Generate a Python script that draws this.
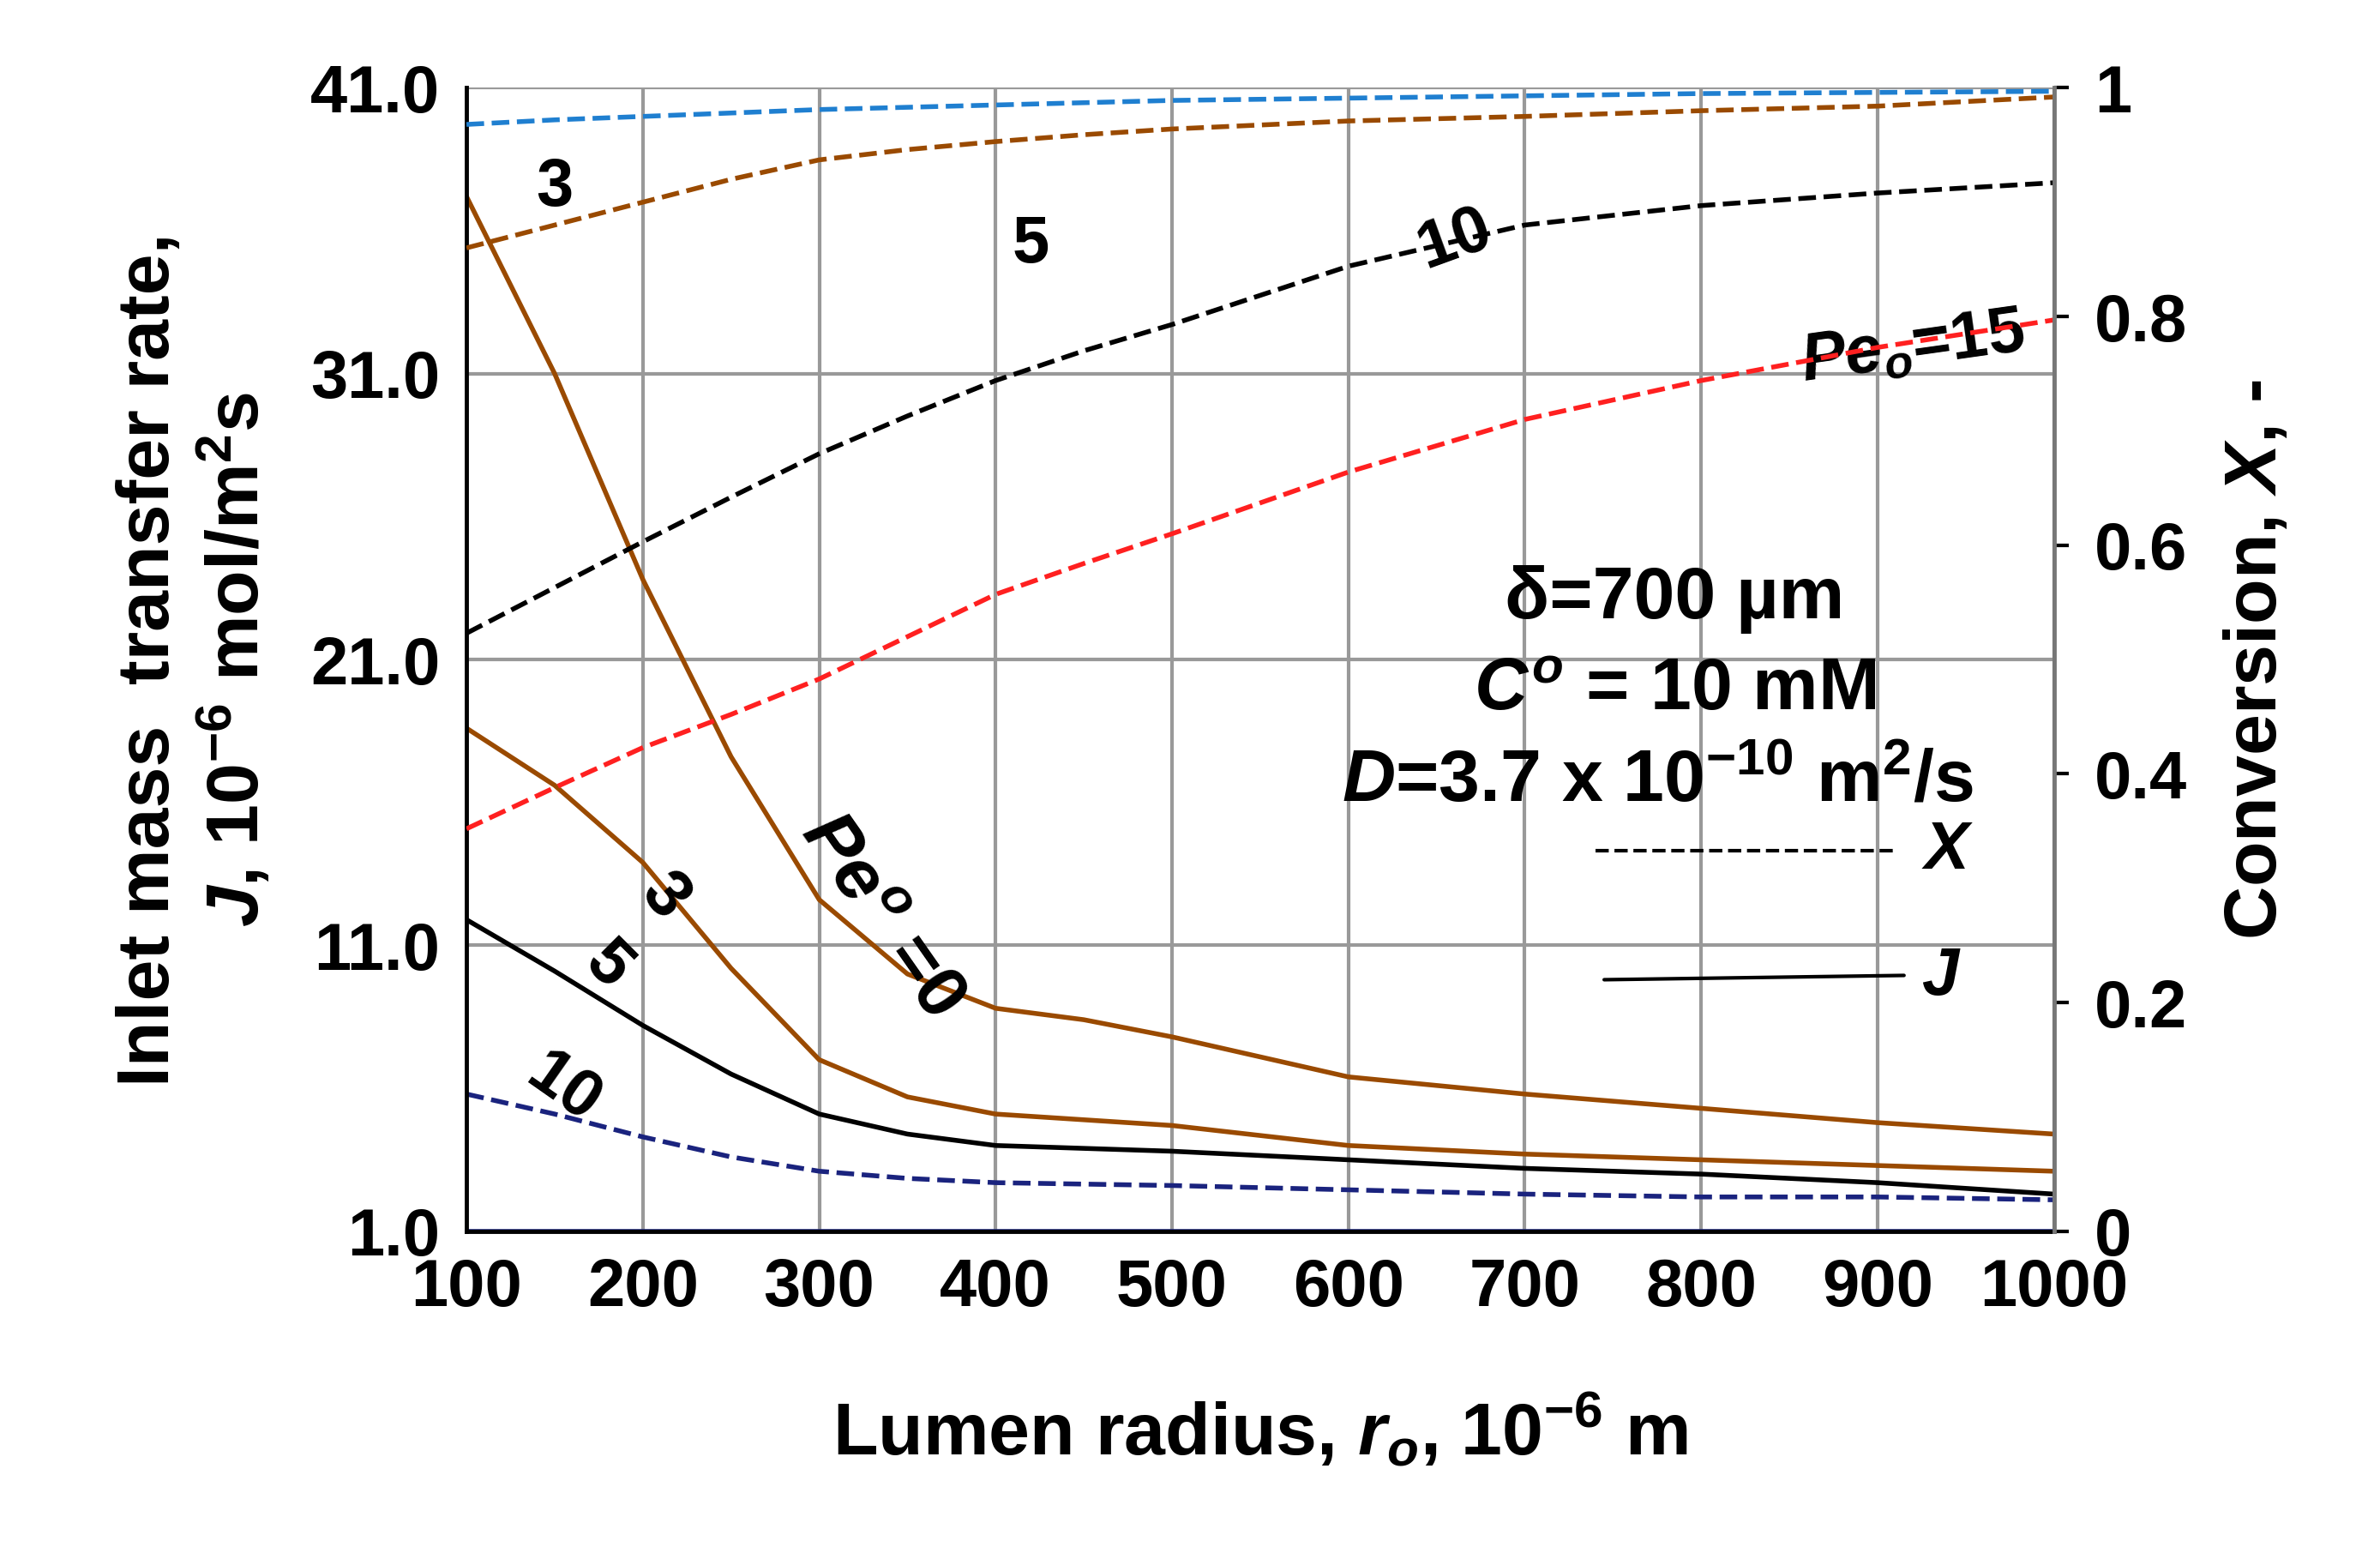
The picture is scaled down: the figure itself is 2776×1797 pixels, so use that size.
import numpy as np, pandas as pd, seaborn as sns, matplotlib
matplotlib.use("Agg")
import matplotlib.pyplot as plt

r = [100,150,200,250,300,350,400,450,500,600,700,800,900,1000]
J_pe0 = [37.2,31.0,23.8,17.6,12.6,10.0,8.8,8.4,7.8,6.4,5.8,5.3,4.8,4.4]
J_pe3 = [18.6,16.6,13.9,10.2,7.0,5.7,5.1,4.9,4.7,4.0,3.7,3.5,3.3,3.1]
J_pe5 = [11.9,10.1,8.2,6.5,5.1,4.4,4.0,3.9,3.8,3.5,3.2,3.0,2.7,2.3]
J_pe10 = [5.8,5.1,4.3,3.6,3.1,2.85,2.7,2.65,2.6,2.45,2.3,2.2,2.2,2.1]
J_pe15 = [1.0]*14
X_pe3 = [0.968,0.972,0.975,0.978,0.981,0.983,0.985,0.987,0.989,0.991,0.993,0.995,0.996,0.997]
X_pe5 = [0.86,0.88,0.90,0.92,0.937,0.946,0.953,0.959,0.964,0.971,0.975,0.98,0.984,0.992]
X_pe10 = [0.523,0.563,0.603,0.642,0.68,0.713,0.744,0.770,0.793,0.844,0.880,0.897,0.908,0.917]
X_pe15 = [0.352,0.388,0.423,0.452,0.483,0.520,0.557,0.584,0.61,0.664,0.71,0.744,0.773,0.797]

sns.set_style("white")
plt.rcParams['font.family'] = ['Liberation Sans', 'DejaVu Sans']
plt.rcParams['font.weight'] = 'bold'
plt.rcParams['text.color'] = 'black'
plt.rcParams['axes.labelcolor'] = 'black'
plt.rcParams['xtick.color'] = 'black'
plt.rcParams['ytick.color'] = 'black'
plt.rcParams['mathtext.fontset'] = 'custom'
plt.rcParams['mathtext.bf'] = 'Liberation Sans:bold'
plt.rcParams['mathtext.it'] = 'Liberation Sans:bold:italic'
plt.rcParams['mathtext.rm'] = 'Liberation Sans:bold'
fig = plt.figure(figsize=(27.76,17.97), dpi=100)
ax = fig.add_axes([0.196,0.201,0.667,0.742])
brown = '#9a4a00'
lw = 4
sns.lineplot(x=r, y=J_pe0, ax=ax, color=brown, lw=lw)
sns.lineplot(x=r, y=J_pe3, ax=ax, color=brown, lw=lw)
sns.lineplot(x=r, y=J_pe5, ax=ax, color='black', lw=lw)
sns.lineplot(x=r, y=J_pe10, ax=ax, color='#1a237e', lw=lw, linestyle='--')
sns.lineplot(x=r, y=J_pe15, ax=ax, color='#1a237e', lw=lw)
ax.set_xlim(100,1000); ax.set_ylim(1,41)
ax.set_xticks(range(100,1001,100)); ax.set_yticks([1,11,21,31,41])
ax.set_yticklabels(['1.0','11.0','21.0','31.0','41.0'])
ax.grid(True, color='#999999', lw=3)
for s in ['top','right']: ax.spines[s].set_visible(False)
ax.spines['left'].set_linewidth(3.5); ax.spines['bottom'].set_linewidth(3.5)
ax.spines['left'].set_color('black'); ax.spines['bottom'].set_color('black')
ax.tick_params(labelsize=56, length=0, pad=22)
for t in ax.get_xticklabels()+ax.get_yticklabels(): t.set_fontweight('bold')
ax.set_xlabel(r'Lumen radius, $\mathit{r_o}$, 10$^{-6}$ m', fontsize=62, fontweight='bold', labelpad=60)
ax.set_ylabel('Inlet mass  transfer rate,\n'+r'$\mathit{J}$, 10$^{-6}$ mol/m$^{2}$s', fontsize=62, fontweight='bold', labelpad=30)
ax2 = ax.twinx()
sns.lineplot(x=r, y=X_pe3, ax=ax2, color='#1f7fd0', lw=lw, linestyle='--')
sns.lineplot(x=r, y=X_pe5, ax=ax2, color=brown, lw=lw, linestyle='--')
sns.lineplot(x=r, y=X_pe10, ax=ax2, color='black', lw=lw, linestyle='--')
sns.lineplot(x=r, y=X_pe15, ax=ax2, color='#ff2020', lw=lw, linestyle='--')
ax2.set_ylim(0,1); ax2.set_xlim(100,1000)
ax2.set_yticks([0,0.2,0.4,0.6,0.8,1]); ax2.set_yticklabels(['0','0.2','0.4','0.6','0.8','1'])
for s in ['top','left','bottom']: ax2.spines[s].set_visible(False)
ax2.spines['right'].set_linewidth(3.5); ax2.spines['right'].set_color('#777777')
ax2.tick_params(labelsize=56, length=12, width=3, pad=22)
for t in ax2.get_yticklabels(): t.set_fontweight('bold')
ax2.set_ylabel(r'Conversion, $\mathit{X}$, -', fontsize=62, fontweight='bold', labelpad=30)
fs=56
ax.text(150,37.5,'3',fontsize=fs,fontweight='bold',ha='center',va='center')
ax.text(420,35.5,'5',fontsize=fs,fontweight='bold',ha='center',va='center')
ax.text(660,35.7,'10',fontsize=fs,fontweight='bold',ha='center',va='center',rotation=20)
ax.text(920,31.9,r'$\mathit{Pe_o}$=15',fontsize=fs,fontweight='bold',ha='center',va='center',rotation=8)
ax.text(785,23.1,'δ=700 µm',fontsize=62,fontweight='bold',ha='center',va='center')
ax.text(785,19.9,r'$\mathit{C}^{o}$ = 10 mM',fontsize=62,fontweight='bold',ha='center',va='center')
ax.text(775,16.7,r'$\mathit{D}$=3.7 x 10$^{-10}$ m$^{2}$/s',fontsize=62,fontweight='bold',ha='center',va='center')
ax.text(335,12.0,r'$\mathit{Pe}^{o}$ =0',fontsize=62,fontweight='bold',rotation=-55,ha='center',va='center')
ax.text(212,12.7,'3',fontsize=fs,fontweight='bold',rotation=-50,ha='center',va='center')
ax.text(180,10.3,'5',fontsize=fs,fontweight='bold',rotation=-45,ha='center',va='center')
ax.text(155,6.0,'10',fontsize=fs,fontweight='bold',rotation=-35,ha='center',va='center')
ax.plot([740,910],[14.3,14.3],'k--',lw=3)
ax.text(925,14.3,r'$\mathit{X}$',fontsize=fs,va='center')
ax.plot([745,915],[9.8,9.95],'k-',lw=3)
ax.text(925,9.9,r'$\mathit{J}$',fontsize=fs,va='center')
fig.savefig('out.png', dpi=100)
